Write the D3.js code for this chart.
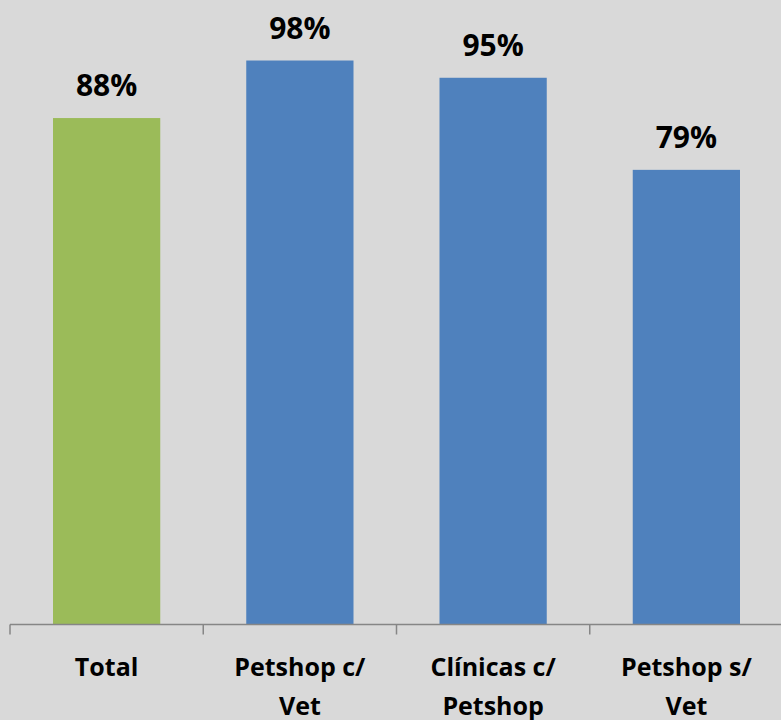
<!DOCTYPE html>
<html><head><meta charset="utf-8">
<script src="https://cdn.jsdelivr.net/npm/d3@7"></script>
<style>html,body{margin:0;padding:0;background:#d9d9d9;}svg{display:block;}</style>
</head><body>
<svg id="c" width="781" height="720"></svg>
<script>
const categories = [["Total"], ["Petshop c/", "Vet"], ["Clínicas c/", "Petshop"], ["Petshop s/", "Vet"]];
const values = [88, 98, 95, 79];
const colors = ["#9bbb59", "#4f81bd", "#4f81bd", "#4f81bd"];

const svg = d3.select("#c");
svg.append("rect").attr("width", 781).attr("height", 720).attr("fill", "#d9d9d9");
const baseY = 624.5;
const keys = categories.map(c => c.join(" "));
const x = d3.scaleBand().domain(keys).range([10, 783]).paddingInner(0.445).paddingOuter(0.2225);
const y = d3.scaleLinear().domain([0, 100]).range([baseY, 49]);
const font = "'Open Sans', sans-serif";

svg.selectAll("rect.bar").data(values).join("rect")
  .attr("class", "bar")
  .attr("x", (d, i) => x(keys[i]))
  .attr("width", x.bandwidth())
  .attr("y", d => y(d))
  .attr("height", d => baseY - y(d))
  .attr("fill", (d, i) => colors[i]);

svg.selectAll("text.val").data(values).join("text")
  .attr("class", "val")
  .attr("x", (d, i) => x(keys[i]) + x.bandwidth() / 2)
  .attr("y", d => y(d) - 22)
  .attr("text-anchor", "middle")
  .attr("font-family", font).attr("font-weight", 700).attr("font-size", 30)
  .attr("fill", "#000")
  .text(d => d + "%");

// axis
const step = x.step();
const ax = svg.append("g").attr("stroke", "#868686").attr("stroke-width", 1.5);
ax.append("line").attr("x1", 10).attr("x2", 781).attr("y1", baseY).attr("y2", baseY);
keys.forEach((k, i) => {
  const tx = x(k) - x.paddingInner() * step / 2;
  ax.append("line").attr("x1", tx).attr("x2", tx).attr("y1", baseY).attr("y2", baseY + 10);
});

const lbl = svg.selectAll("text.cat").data(categories).join("text")
  .attr("class", "cat")
  .attr("text-anchor", "middle")
  .attr("font-family", font).attr("font-weight", 700).attr("font-size", 25)
  .attr("fill", "#000");
lbl.each(function(lines, i) {
  const cx = x(keys[i]) + x.bandwidth() / 2;
  lines.forEach((t, j) => {
    d3.select(this).append("tspan").attr("x", cx).attr("y", 676 + j * 39).text(t);
  });
});
</script>
</body></html>
